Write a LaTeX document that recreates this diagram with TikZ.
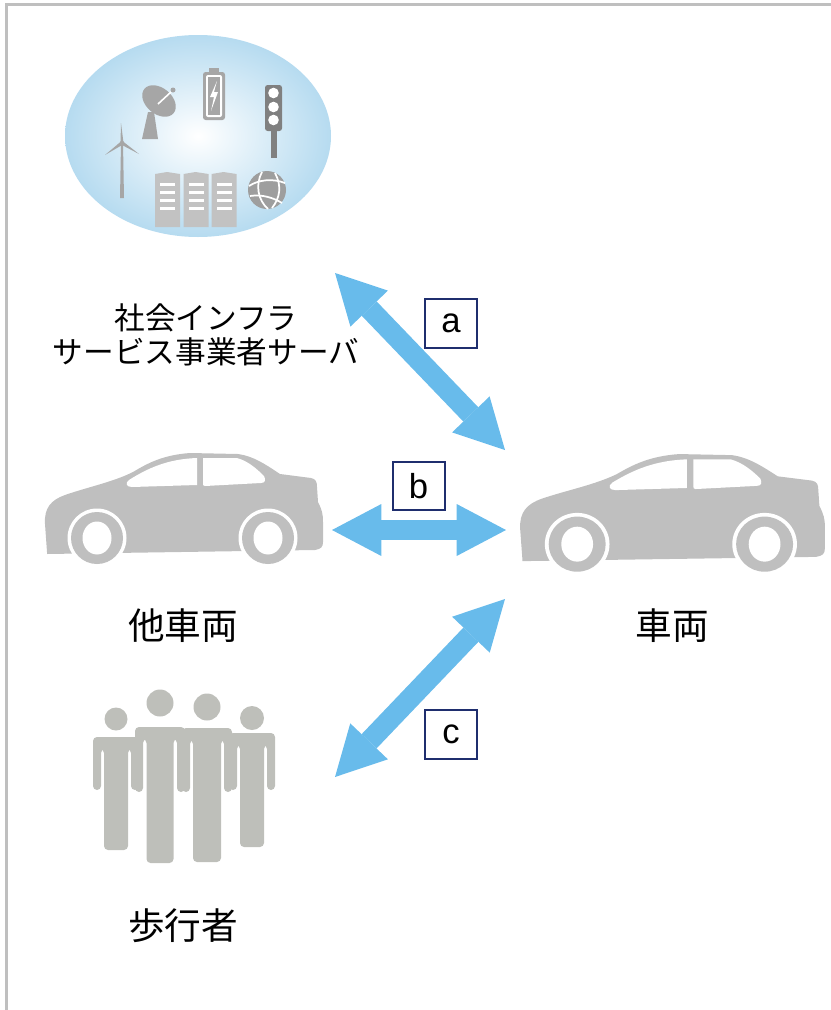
\documentclass[tikz,border=0pt]{standalone}
\usepackage{fontspec}
\setmainfont{Liberation Sans}
\newfontfamily\jp{Noto Sans CJK JP}
\usepackage{tikz}
\usetikzlibrary{arrows.meta,shapes.geometric}
\definecolor{framegray}{RGB}{191,191,191}
\definecolor{skyblue}{RGB}{182,219,240}
\definecolor{arrowblue}{RGB}{104,187,235}
\definecolor{navy}{RGB}{31,46,110}
\definecolor{cargray}{RGB}{191,191,191}
\definecolor{peoplegray}{RGB}{190,191,186}
\definecolor{icongray}{RGB}{166,166,166}
\definecolor{darkicon}{RGB}{128,128,128}
\definecolor{rackgray}{RGB}{194,194,194}

\tikzset{
  % sedan silhouette, about 280 x 115 units
  car/.pic={
    \fill[cargray] (4,100) -- (2,72) .. controls (1,56) and (8,48) .. (22,43)
      .. controls (45,35) and (70,30) .. (90,20) .. controls (105,11) and (120,3) .. (147,1)
      -- (195,2) .. controls (210,4) and (222,12) .. (237,22) -- (268,26)
      .. controls (273,27) and (274,30) .. (274,35) -- (275,50)
      .. controls (279,58) and (280,62) .. (280,70) -- (280,90)
      .. controls (280,95) and (278,97) .. (272,98) -- (4,102) -- cycle;
    \fill[white] (89,35) .. controls (83,35) and (82,31) .. (86,28)
      .. controls (105,16) and (125,7) .. (154,6) -- (154,33) -- cycle;
    \fill[white] (160,6) -- (194,6) .. controls (205,9) and (214,17) .. (221,24)
      .. controls (223,28) and (222,31) .. (218,31) -- (162,34)
      .. controls (160,34) and (160,33) .. (160,31) -- cycle;
    \foreach \wx in {54,225} {
      \fill[white] (\wx,86) circle (29.5);
      \fill[cargray] (\wx,86) circle (26);
      \fill[white] (\wx,86) ellipse (14.5 and 16.5);
    }
  },
  linkarrow/.style={draw=arrowblue, line width=15.5pt,
    {Triangle[length=37pt,width=39pt,line width=0pt]}-{Triangle[length=37pt,width=39pt,line width=0pt]}},
  tagbox/.style={draw=navy, line width=1.5pt, fill=white, inner sep=0pt,
    minimum width=39pt, minimum height=36.5pt, font=\fontsize{26}{30}\selectfont},
  bigname/.style={inner sep=0pt, font=\jp\fontsize{27.5}{32}\selectfont},
}

\begin{document}
\begin{tikzpicture}[x=0.75pt,y=-0.75pt]
  \useasboundingbox (0,0) rectangle (831,1010);
  \draw[framegray, line width=2.25pt] (6.5,1010) -- (6.5,4.5) -- (831,4.5);

  % infrastructure bubble
  \node[ellipse, inner color=white, outer color=skyblue, minimum width=199.5pt,
    minimum height=151.5pt, inner sep=0pt] (infra) at (198,136) {};
  % wind turbine
  \fill[icongray] (121,143) -- (123,143) -- (124,198) -- (120,198) -- cycle;
  \fill[icongray] (120.5,143) -- (121,123) -- (123.5,143) -- cycle;
  \fill[icongray] (121,141.5) -- (105,155) -- (123,144.5) -- cycle;
  \fill[icongray] (121,144.5) -- (139,154) -- (123,141.5) -- cycle;
  \fill[icongray] (122,143) circle (2.2);
  % dish
  \fill[icongray] (148,112) -- (154,112) -- (158,139) -- (142,139) -- cycle;
  \fill[icongray, rotate around={-40:(159,101)}] (159,101) ellipse (19 and 13);
  \draw[white, line width=1.2pt] (158,104) -- (171,92);
  \fill[icongray] (173,90) circle (2.5);
  % battery
  \fill[icongray] (209,68) rectangle (219,73);
  \fill[icongray, rounded corners=2pt] (203,72) rectangle (225,120);
  \fill[white, rounded corners=1.5pt] (206,75) rectangle (222,117);
  \fill[icongray] (208,77) rectangle (220,115);
  \fill[white] (217,81) -- (210,97) -- (214,97) -- (211,111) -- (218,92) -- (214,92) -- cycle;
  % traffic light
  \fill[darkicon] (271,128) rectangle (277,158);
  \fill[darkicon, rounded corners=2pt] (265,85) rectangle (282,131);
  \foreach \ly in {93,107,120}
    \fill[white] (273.5,\ly) circle (5.3);
  % server racks
  \foreach \px in {155,183.5,211.5} {
    \fill[rackgray] (\px,174) -- (\px+12,172) -- (\px+25,174) -- (\px+25,227) -- (\px,227) -- cycle;
    \foreach \sy in {183,191,199,207}
      \fill[white] (\px+5,\sy) rectangle (\px+20,\sy+2.5);
  }
  % globe
  \fill[icongray!95!black] (267,190) circle (19);
  \draw[white, line width=1.3pt] (249,186) .. controls (258,180) and (272,178) .. (285,183);
  \draw[white, line width=1.3pt] (250,196) .. controls (262,194) and (274,198) .. (282,203);
  \draw[white, line width=1.3pt] (262,172) .. controls (255,185) and (258,200) .. (268,209);
  \draw[white, line width=1.3pt] (275,173) .. controls (282,186) and (280,198) .. (272,208);

  \node[align=center, inner sep=0pt, font=\jp\fontsize{23}{25.5}\selectfont]
    (infratext) at (206,335) {社会インフラ\\サービス事業者サーバ};

  % vehicles
  \pic at (43,452) {car};
  \pic[xscale=1.096, yscale=1.06] at (518,453) {car};
  \node[bigname] (othercartext) at (183,626) {他車両};
  \node[bigname] (cartext) at (672,626) {車両};

  % pedestrians
  \foreach \cx/\hy/\r/\sy/\W/\T/\ay/\by in
      {116/719/11.5/737/23/12/790/850, 160/703/13.5/727/25/13.5/792/863,
       207/707/13.5/728/25/14/792/862, 252/718/12/733/23/12/790/847} {
    \fill[peoplegray] (\cx,\hy) circle (\r);
    \fill[peoplegray, rounded corners=3pt] (\cx-\W+8,\ay) -- (\cx-\W+8,\sy+12)
      -- (\cx-\T,\sy+12) -- (\cx-\T,\by) -- (\cx+\T,\by) -- (\cx+\T,\sy+12)
      -- (\cx+\W-8,\sy+12) -- (\cx+\W-8,\ay) -- (\cx+\W,\ay) -- (\cx+\W,\sy)
      -- (\cx-\W,\sy) -- (\cx-\W,\ay) -- cycle;
  }
  \node[bigname] (walkerstext) at (183,926) {歩行者};

  % communication links
  \coordinate (a1) at (335,273);
  \coordinate (a2) at (505,450);
  \coordinate (b1) at (332,530);
  \coordinate (b2) at (506,530);
  \coordinate (c1) at (505,599);
  \coordinate (c2) at (335,777);
  \draw[linkarrow] (a1) -- (a2);
  \draw[linkarrow] (b1) -- (b2);
  \draw[linkarrow] (c1) -- (c2);

  \node[tagbox] (taga) at (451,323.5) {a};
  \node[tagbox] (tagb) at (418.5,486) {b};
  \node[tagbox] (tagc) at (451,734.5) {c};
\end{tikzpicture}
\end{document}
